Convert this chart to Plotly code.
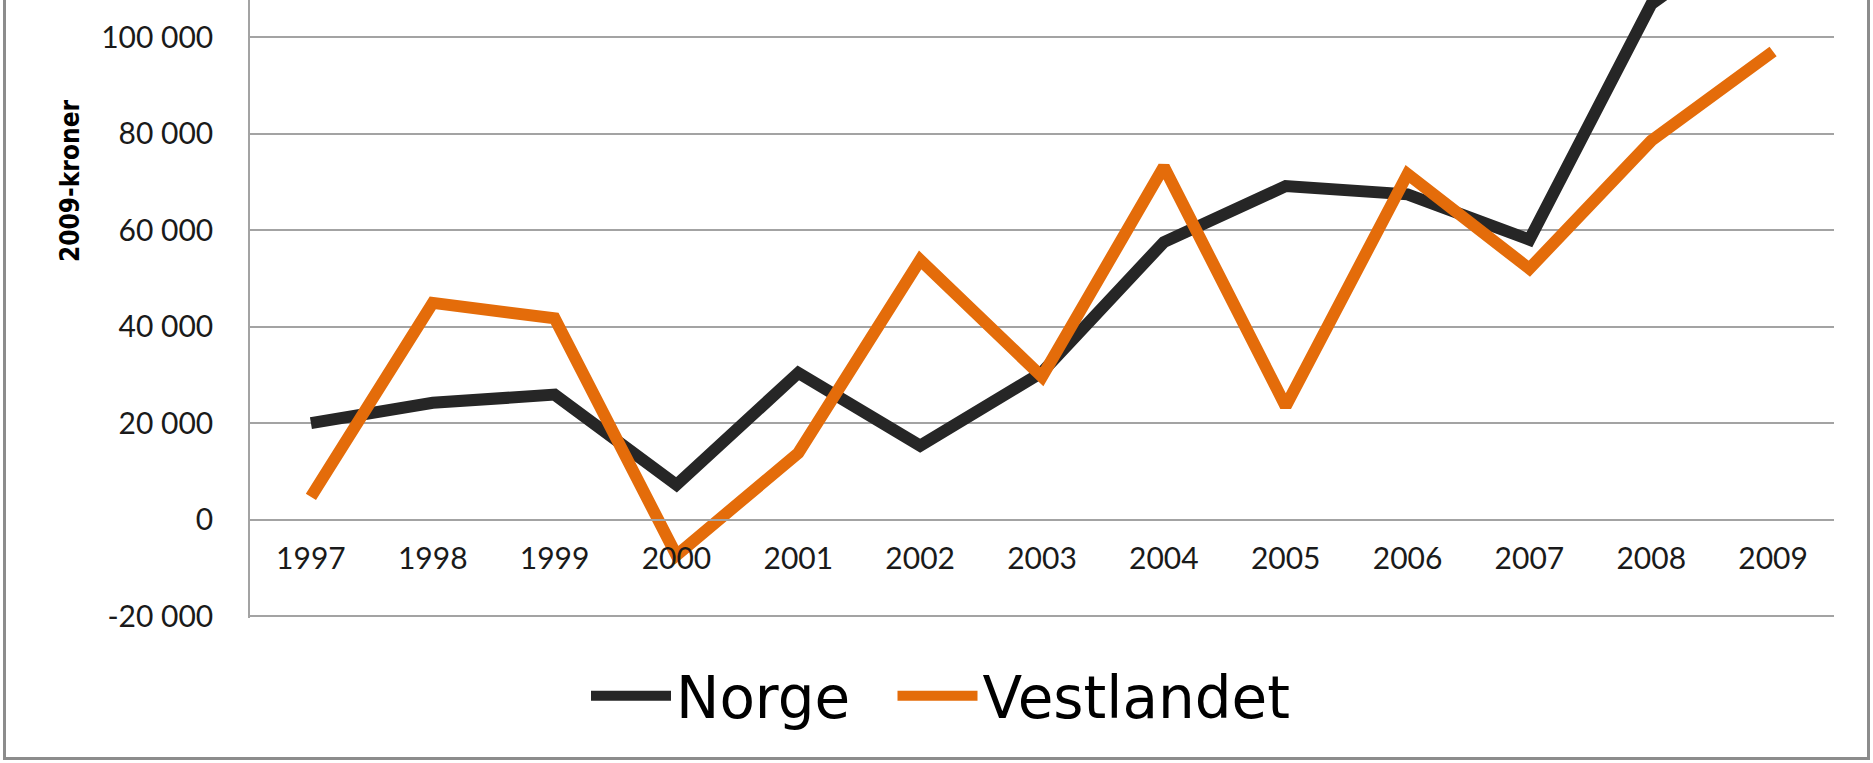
import plotly.graph_objects as go

years = ["1997", "1998", "1999", "2000", "2001", "2002", "2003",
         "2004", "2005", "2006", "2007", "2008", "2009"]
norge = [20000, 24200, 25900, 7200, 30400, 15300, 30500,
         57500, 69100, 67400, 58000, 106800, 125000]
vestlandet = [4700, 44900, 41700, -7400, 13800, 53800, 29600,
              73100, 23500, 71600, 52000, 78500, 97000]
y_ticks = [-20000, 0, 20000, 40000, 60000, 80000, 100000]
y_tick_labels = ["-20 000", "0", "20 000", "40 000", "60 000", "80 000", "100 000"]

W, H = 1873, 763
ml, mr, mt, mb = 250, 39, 0, 145
plot_w = W - ml - mr
plot_h = H - mt - mb
px_per_unit = 96.52 / 20000
y_max = 100000 + 37 / px_per_unit
y_min = y_max - plot_h / px_per_unit

fig = go.Figure()
fig.add_trace(go.Scatter(x=years, y=norge, name="Norge", mode="lines",
                         legend="legend",
                         line=dict(color="#262626", width=12)))
fig.add_trace(go.Scatter(x=years, y=vestlandet, name="Vestlandet", mode="lines",
                         legend="legend2",
                         line=dict(color="#E46C0A", width=12)))

grid = "#a3a3a3"
zero_frac = (0 - y_min) / (y_max - y_min)
sym_off = 6.5
leg_common = dict(orientation="h", xref="container", xanchor="left",
                  yref="container", y=(H - 696) / H, yanchor="middle",
                  font=dict(family="'DejaVu Sans', sans-serif", size=58, color="#000000"),
                  itemwidth=80, bgcolor="rgba(0,0,0,0)")

fig.update_layout(
    width=W, height=H, autosize=False,
    margin=dict(l=ml, r=mr, t=mt, b=mb, pad=0, autoexpand=False),
    paper_bgcolor="white", plot_bgcolor="white",
    font=dict(family="Lato, 'Open Sans', sans-serif", color="#1a1a1a"),
    showlegend=True,
    legend=dict(x=(592.5 - sym_off) / W, **leg_common),
    legend2=dict(x=(899 - sym_off) / W, **leg_common),
    xaxis=dict(type="category", range=[-0.5, 12.5], showgrid=False,
               anchor="free", position=zero_frac, automargin=False,
               showline=True, linecolor=grid, linewidth=1.5,
               ticks="", tickangle=0, tickfont=dict(size=30, color="#1a1a1a"),
               ticklabelstandoff=13, fixedrange=True),
    yaxis=dict(range=[y_min, y_max], tickvals=y_ticks, ticktext=y_tick_labels,
               showgrid=True, gridcolor=grid, gridwidth=1.5, automargin=False,
               zeroline=False, showline=True, linecolor=grid, linewidth=1.5,
               ticks="", tickfont=dict(size=30, color="#1a1a1a"),
               ticklabelstandoff=29, fixedrange=True),
)

fig.add_annotation(text="<b>2009-kroner</b>", textangle=-90,
                   xref="paper", yref="paper",
                   x=(70 - ml) / plot_w, y=(plot_h - 181) / plot_h,
                   xanchor="center", yanchor="middle", showarrow=False,
                   font=dict(family="'DejaVu Sans Condensed', 'Liberation Sans Narrow', 'Liberation Sans', sans-serif",
                             size=26, color="#000000"))

# outer chart border
fig.add_shape(type="rect", xref="paper", yref="paper", layer="above",
              x0=(4.5 - ml) / plot_w, x1=(1868.5 - ml) / plot_w,
              y0=(plot_h - 758.5) / plot_h, y1=1.2,
              line=dict(color="#8c8c8c", width=3), fillcolor="rgba(0,0,0,0)")

fig.write_html("out.html", config={"displayModeBar": False},
               post_script="document.body.style.margin='0';")
